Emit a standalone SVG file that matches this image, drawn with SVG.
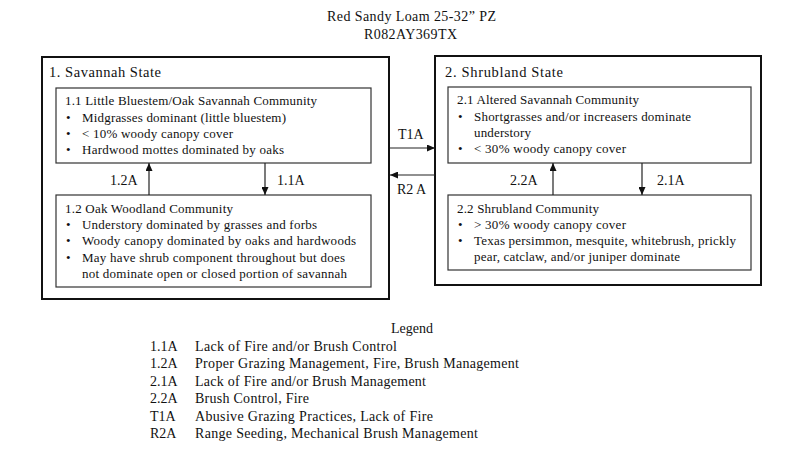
<svg xmlns="http://www.w3.org/2000/svg" width="800" height="474" viewBox="0 0 800 474">
<defs>
<marker id="ah" markerWidth="8" markerHeight="7" refX="8" refY="3.5" orient="auto" markerUnits="userSpaceOnUse">
<path d="M0,0 L8,3.5 L0,7 z" fill="#111"/>
</marker>
<style>
text{font-family:"Liberation Serif","Times New Roman",serif;fill:#111;}
.t{font-size:14px;}
.st{font-size:14.5px;}
.b{font-size:13px;}
.lab{font-size:14px;}
.lg{font-size:14px;}
.outer{fill:none;stroke:#111;stroke-width:2;}
.inner{fill:none;stroke:#333;stroke-width:1.2;}
.conn line{stroke:#222;stroke-width:1.2;marker-end:url(#ah);}
</style>
</defs>
<rect width="800" height="474" fill="#fff"/>
<g id="title">
<text class="t" x="411.5" y="21" text-anchor="middle" textLength="169" lengthAdjust="spacing">Red Sandy Loam 25-32” PZ</text>
<text class="t" x="410.5" y="39" text-anchor="middle" textLength="93" lengthAdjust="spacing">R082AY369TX</text>
</g>
<g id="state1">
<rect class="outer" x="42" y="57" width="347" height="242"/>
<text class="st" x="49" y="77" textLength="112" lengthAdjust="spacing">1. Savannah  State</text>
</g>
<g id="comm1-1">
<rect class="inner" x="56" y="88" width="315" height="75"/>
<text class="b" x="65" y="105" textLength="252" lengthAdjust="spacing">1.1 Little Bluestem/Oak Savannah Community</text>
<text class="b" x="66" y="122">•</text><text class="b" x="82" y="122" textLength="204" lengthAdjust="spacing">Midgrasses dominant (little bluestem)</text>
<text class="b" x="66" y="138">•</text><text class="b" x="82" y="138" textLength="151" lengthAdjust="spacing">&lt; 10% woody canopy cover</text>
<text class="b" x="66" y="154">•</text><text class="b" x="82" y="154" textLength="202" lengthAdjust="spacing">Hardwood mottes dominated by oaks</text>
</g>
<g id="comm1-2">
<rect class="inner" x="56" y="195" width="315" height="92"/>
<text class="b" x="65" y="213" textLength="168" lengthAdjust="spacing">1.2 Oak Woodland Community</text>
<text class="b" x="66" y="229">•</text><text class="b" x="82" y="229" textLength="235" lengthAdjust="spacing">Understory dominated by grasses and forbs</text>
<text class="b" x="66" y="245">•</text><text class="b" x="82" y="245" textLength="274" lengthAdjust="spacing">Woody canopy dominated by oaks and hardwoods</text>
<text class="b" x="66" y="262">•</text><text class="b" x="82" y="262" textLength="263" lengthAdjust="spacing">May have shrub component throughout but does</text>
<text class="b" x="82" y="278" textLength="265" lengthAdjust="spacing">not dominate open or closed portion of savannah</text>
</g>
<g id="state2">
<rect class="outer" x="435" y="56" width="326" height="229"/>
<text class="st" x="445" y="77" textLength="118" lengthAdjust="spacing">2. Shrubland  State</text>
</g>
<g id="comm2-1">
<rect class="inner" x="448" y="87" width="303" height="76"/>
<text class="b" x="457" y="104" textLength="182" lengthAdjust="spacing">2.1 Altered Savannah Community</text>
<text class="b" x="458" y="121">•</text><text class="b" x="474" y="121" textLength="217" lengthAdjust="spacing">Shortgrasses and/or increasers dominate</text>
<text class="b" x="474" y="137" textLength="57" lengthAdjust="spacing">understory</text>
<text class="b" x="458" y="153">•</text><text class="b" x="474" y="153" textLength="152" lengthAdjust="spacing">&lt; 30% woody canopy cover</text>
</g>
<g id="comm2-2">
<rect class="inner" x="448" y="195" width="303" height="75"/>
<text class="b" x="457" y="213" textLength="142" lengthAdjust="spacing">2.2 Shrubland Community</text>
<text class="b" x="458" y="229">•</text><text class="b" x="474" y="229" textLength="152" lengthAdjust="spacing">&gt; 30% woody canopy cover</text>
<text class="b" x="458" y="245">•</text><text class="b" x="474" y="245" textLength="262" lengthAdjust="spacing">Texas persimmon, mesquite, whitebrush, prickly</text>
<text class="b" x="474" y="261" textLength="206" lengthAdjust="spacing">pear, catclaw, and/or juniper dominate</text>
</g>
<g id="connectors" class="conn">
<line x1="149" y1="195" x2="149" y2="163"/>
<line x1="265" y1="163" x2="265" y2="195"/>
<line x1="553" y1="195" x2="553" y2="163"/>
<line x1="642" y1="163" x2="642" y2="195"/>
<line x1="390" y1="148" x2="435" y2="148"/>
<line x1="435" y1="175" x2="390" y2="175"/>
<text class="lab" x="110" y="185">1.2A</text>
<text class="lab" x="277" y="185">1.1A</text>
<text class="lab" x="510" y="185">2.2A</text>
<text class="lab" x="657" y="185">2.1A</text>
<text class="lab" x="398" y="139">T1A</text>
<text class="lab" x="397" y="194">R2 A</text>
</g>
<g id="legend">
<text class="lg" x="412" y="333" text-anchor="middle">Legend</text>
<text class="lg" x="150" y="351">1.1A</text><text class="lg" x="195" y="351" textLength="202" lengthAdjust="spacing">Lack of Fire and/or Brush Control</text>
<text class="lg" x="150" y="368">1.2A</text><text class="lg" x="195" y="368" textLength="324" lengthAdjust="spacing">Proper Grazing Management, Fire, Brush Management</text>
<text class="lg" x="150" y="386">2.1A</text><text class="lg" x="195" y="386" textLength="231" lengthAdjust="spacing">Lack of Fire and/or Brush Management</text>
<text class="lg" x="150" y="403">2.2A</text><text class="lg" x="195" y="403" textLength="114" lengthAdjust="spacing">Brush Control, Fire</text>
<text class="lg" x="150" y="421">T1A</text><text class="lg" x="195" y="421" textLength="238" lengthAdjust="spacing">Abusive Grazing Practices, Lack of Fire</text>
<text class="lg" x="150" y="438">R2A</text><text class="lg" x="195" y="438" textLength="283" lengthAdjust="spacing">Range Seeding, Mechanical Brush Management</text>
</g>
</svg>
